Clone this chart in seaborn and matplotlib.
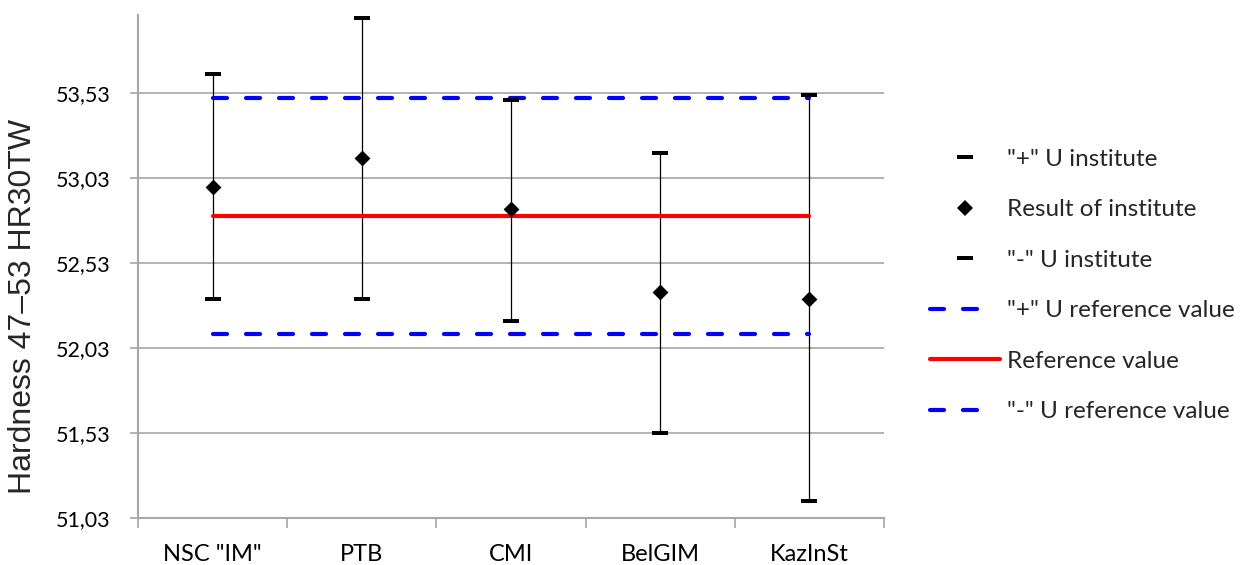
import numpy as np
import pandas as pd
import matplotlib
matplotlib.use("Agg")
import matplotlib.pyplot as plt
from matplotlib.lines import Line2D
from matplotlib.ticker import FuncFormatter
import seaborn as sns

# ---- data ----
institutes = ['NSC "IM"', 'PTB', 'CMI', 'BelGIM', 'KazInSt']
u_plus = [53.64, 53.97, 53.49, 53.18, 53.52]
result = [52.98, 53.15, 52.85, 52.36, 52.32]
u_minus = [52.32, 52.32, 52.19, 51.53, 51.13]
ref_plus = [53.50, 53.50, 53.50, 53.50, 53.50]
ref_value = [52.81, 52.81, 52.81, 52.81, 52.81]
ref_minus = [52.11, 52.11, 52.11, 52.11, 52.11]
y_ticks = [51.03, 51.53, 52.03, 52.53, 53.03, 53.53]
y_label = "Hardness 47\u201353 HR30TW"
legend_labels = ['"+" U institute', 'Result of institute', '"-" U institute',
                 '"+" U reference value', 'Reference value', '"-" U reference value']

sns.set_theme(style="white")
plt.rcParams['font.family'] = ['Lato', 'DejaVu Sans']

df = pd.DataFrame({
    "pos": np.arange(len(institutes)),
    "institute": institutes,
    "u_plus": u_plus, "result": result, "u_minus": u_minus,
    "ref_plus": ref_plus, "ref_value": ref_value, "ref_minus": ref_minus,
})

fig = plt.figure(figsize=(12.44, 5.65), dpi=100)
ax = fig.add_axes([138/1244, 1 - 518/565, (884-138)/1244, (518-15)/565])

grid_c = "#a6a6a6"
for y in y_ticks:
    ax.axhline(y, color=grid_c, lw=1.2, zorder=0)

# cap marker: flat rectangle
cap = [(-1, -0.26), (1, -0.26), (1, 0.26), (-1, 0.26), (-1, -0.26)]

# vertical uncertainty bars
ax.vlines(df["pos"], df["u_minus"], df["u_plus"], color="black", lw=0.9, zorder=2)

# reference lines
ref_dash = (3.36, 4.56)
sns.lineplot(data=df, x="pos", y="ref_plus", ax=ax, color="#0000ff", lw=3,
             zorder=3, legend=False)
ax.lines[-1].set_dashes(ref_dash)
ax.lines[-1].set_dash_capstyle("round")
sns.lineplot(data=df, x="pos", y="ref_value", ax=ax, color="#ff0000", lw=3,
             zorder=3, legend=False)
sns.lineplot(data=df, x="pos", y="ref_minus", ax=ax, color="#0000ff", lw=3,
             zorder=3, legend=False)
ax.lines[-1].set_dashes(ref_dash)
ax.lines[-1].set_dash_capstyle("round")

# markers
sns.scatterplot(data=df, x="pos", y="u_plus", ax=ax, marker=cap, s=125,
                color="black", linewidth=0, zorder=4, legend=False)
sns.scatterplot(data=df, x="pos", y="u_minus", ax=ax, marker=cap, s=125,
                color="black", linewidth=0, zorder=4, legend=False)
sns.scatterplot(data=df, x="pos", y="result", ax=ax, marker="D", s=65,
                color="black", linewidth=0, zorder=5, legend=False)

# axes styling
ax.set_xlim(-0.5, len(institutes) - 0.5)
ax.set_ylim(51.03, 53.99)
ax.set_yticks(y_ticks)
ax.yaxis.set_major_formatter(FuncFormatter(lambda v, p: f"{v:.2f}".replace(".", ",")))
ax.set_xticks(np.arange(-0.5, len(institutes), 1.0))
ax.set_xticklabels([])
ax.set_xticks(np.arange(len(institutes)), minor=True)
ax.set_xticklabels(institutes, minor=True)
ax.tick_params(axis="x", which="major", direction="out", length=7, width=1.2,
               color=grid_c, bottom=True)
ax.tick_params(axis="x", which="minor", length=0, pad=19, labelsize=17,
               labelcolor="black")
ax.tick_params(axis="y", direction="out", length=6, width=1.2, color=grid_c,
               left=True, pad=14, labelsize=15.5, labelcolor="black")
for s in ["top", "right"]:
    ax.spines[s].set_visible(False)
for s in ["left", "bottom"]:
    ax.spines[s].set_color(grid_c)
    ax.spines[s].set_linewidth(1.5)
ax.set_xlabel("")
ax.set_ylabel(y_label, fontsize=23, family=["Liberation Sans", "DejaVu Sans"])
ax.yaxis.set_label_coords((38 - 138) / 746, 1 - (306 - 15) / 503)

# legend
leg_dash = (3.36, 4.56, 3.36, 20)
handles = [
    Line2D([], [], marker=cap, markersize=11, color="black", linestyle="none", mew=0),
    Line2D([], [], marker="D", markersize=8, color="black", linestyle="none", mew=0),
    Line2D([], [], marker=cap, markersize=11, color="black", linestyle="none", mew=0),
    Line2D([], [], color="#0000ff", lw=3, dashes=leg_dash, dash_capstyle="round"),
    Line2D([], [], color="#ff0000", lw=3),
    Line2D([], [], color="#0000ff", lw=3, dashes=leg_dash, dash_capstyle="round"),
]
fig.legend(handles, legend_labels, loc="center left",
           bbox_to_anchor=(930/1244, 1 - 285.5/565), frameon=False,
           fontsize=17.5, handlelength=2.88, handletextpad=0.3,
           labelspacing=1.21, borderpad=0, borderaxespad=0)

fig.savefig("out.png", dpi=100)
